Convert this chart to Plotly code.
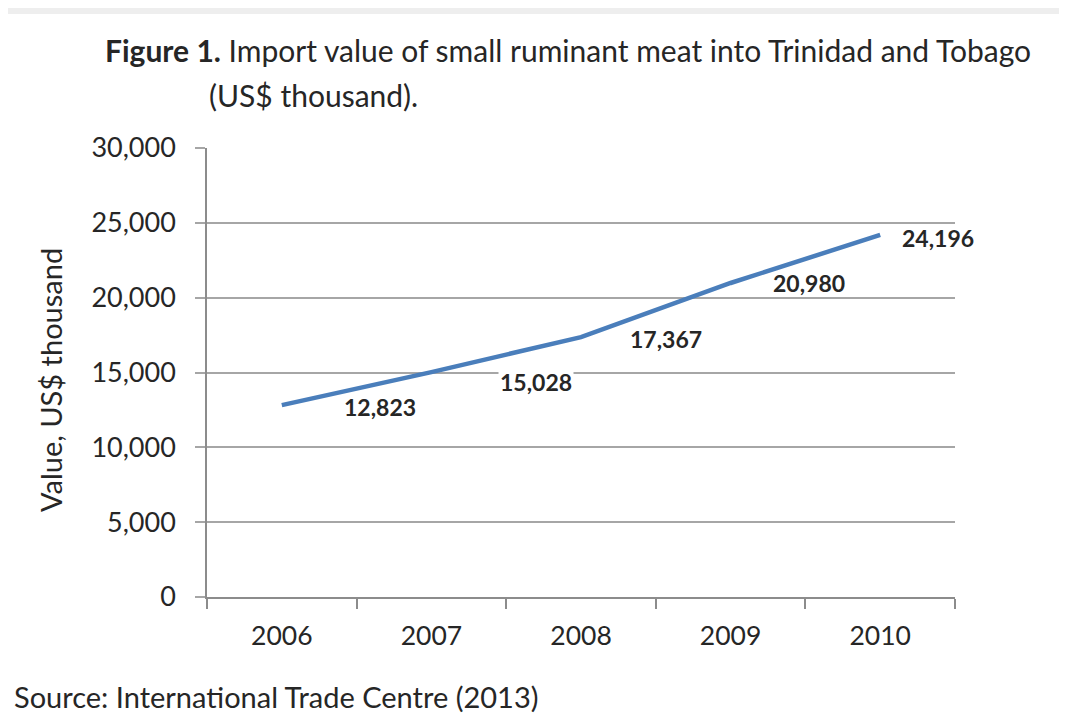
import plotly.graph_objects as go

years = ["2006", "2007", "2008", "2009", "2010"]
values = [12823, 15028, 17367, 20980, 24196]
value_labels = ["12,823", "15,028", "17,367", "20,980", "24,196"]
label_xshift = [98, 105, 85, 78, 58]
label_yshift = [-2, -10, -2, 0, -3]
label_bg = [None, "white", None, None, None]
y_ticks = [0, 5000, 10000, 15000, 20000, 25000, 30000]
y_tick_text = ["0", "5,000", "10,000", "15,000", "20,000", "25,000", "30,000"]

FONT = "Lato"
TEXT = "#262626"
GRID = "#a6a6a6"
AXIS = "#8c8c8c"

# page body has an 8px margin; figure drawn inside it
OFF = 8
W, H = 1051, 708
PLOT_L, PLOT_R, PLOT_T, PLOT_B = 207, 955, 148, 597   # in window pixels
L = PLOT_L - OFF
T = PLOT_T - OFF
R = W - (PLOT_R - OFF)
B = H - (PLOT_B - OFF)
PW, PH = PLOT_R - PLOT_L, PLOT_B - PLOT_T


def px(x):
    return (x - PLOT_L) / PW


def py(y):
    return (PLOT_B - y) / PH


fig = go.Figure()
fig.add_trace(go.Scatter(
    x=years, y=values, mode="lines",
    line=dict(color="#4a7ebb", width=4.5),
    hoverinfo="skip", showlegend=False,
))

annotations = []
for i, (v, lab, xs, ys, bg) in enumerate(zip(values, value_labels, label_xshift, label_yshift, label_bg)):
    ann = dict(
        x=i, y=v, xref="x", yref="y", text=f"<b>{lab}</b>", showarrow=False,
        xshift=xs, yshift=ys, borderpad=1,
        font=dict(family=FONT, size=23, color=TEXT),
    )
    if bg:
        ann["bgcolor"] = bg
    annotations.append(ann)

annotations += [
    dict(x=px(103), y=py(50), xref="paper", yref="paper", xanchor="left", yanchor="middle",
         text="<b>Figure 1.</b> Import value of small ruminant meat into Trinidad and Tobago",
         showarrow=False, font=dict(family=FONT, size=30, color=TEXT)),
    dict(x=px(207), y=py(95), xref="paper", yref="paper", xanchor="left", yanchor="middle",
         text="(US$ thousand).", showarrow=False, font=dict(family=FONT, size=30, color=TEXT)),
    dict(x=px(50), y=py(380), xref="paper", yref="paper", xanchor="center", yanchor="middle",
         text="Value, US$ thousand", textangle=-90, showarrow=False,
         font=dict(family=FONT, size=29, color=TEXT)),
    dict(x=px(12), y=py(696), xref="paper", yref="paper", xanchor="left", yanchor="middle",
         text="Source: International Trade Centre (2013)", showarrow=False,
         font=dict(family=FONT, size=29, color=TEXT)),
]

shapes = [
    dict(type="rect", xref="paper", yref="paper", x0=px(0), x1=px(1070), y0=py(14), y1=py(0),
         fillcolor="#eeeeee", line=dict(width=0), layer="below"),
]

fig.update_layout(
    width=W, height=H,
    margin=dict(l=L, r=R, t=T, b=B),
    paper_bgcolor="white", plot_bgcolor="white",
    annotations=annotations, shapes=shapes,
    showlegend=False,
)
fig.update_xaxes(
    type="category", range=[-0.5, 4.5], tickson="boundaries",
    ticks="outside", ticklen=10, tickcolor=AXIS, tickwidth=1.5,
    showline=True, linecolor=AXIS, linewidth=1.5, showgrid=False,
    tickfont=dict(family=FONT, size=26.5, color=TEXT), ticklabelstandoff=14,
)
fig.update_yaxes(
    range=[0, 30000], tickvals=y_ticks, ticktext=y_tick_text,
    ticks="outside", ticklen=10, tickcolor=GRID, tickwidth=1.5,
    showline=True, linecolor=AXIS, linewidth=1.5,
    showgrid=True, gridcolor=GRID, gridwidth=1.5, zeroline=False,
    tickfont=dict(family=FONT, size=27, color=TEXT), ticklabelstandoff=14,
)

fig.write_html("out.html")
